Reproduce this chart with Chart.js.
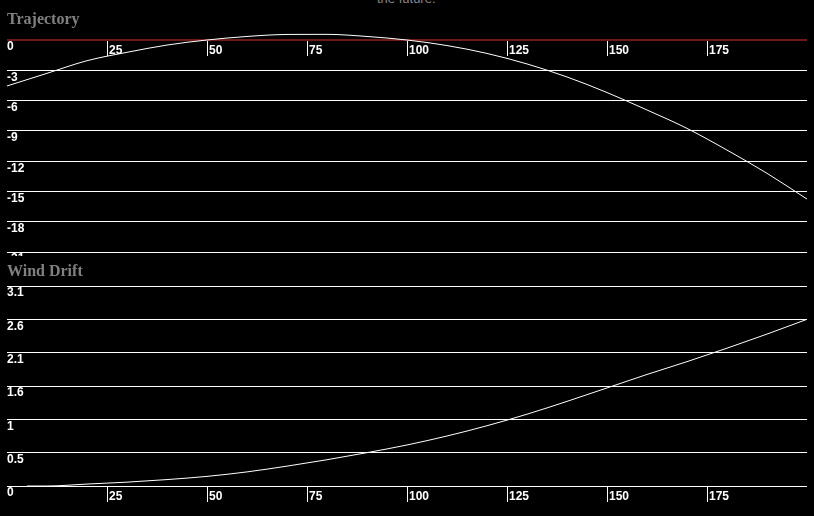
<!DOCTYPE html>
<html>
<head>
<meta charset="utf-8">
<title>Trajectory</title>
<script src="https://cdn.jsdelivr.net/npm/chart.js@4.4.0/dist/chart.umd.min.js"></script>
<style>
  html, body { margin:0; padding:0; background:#000; overflow:hidden; }
  #wrap { position:relative; width:814px; height:516px; }
  canvas { position:absolute; left:0; }
  #trayectoria { top:0; }
  #deriva { top:256px; background:#000; }
  #nota { position:absolute; top:-8px; left:377px; color:#888; font:13px 'Liberation Sans', Arial, sans-serif; line-height:13px; }
</style>
</head>
<body>
<div id="wrap">
  <div id="nota">the future.</div>
  <canvas id="trayectoria" width="814" height="256"></canvas>
  <canvas id="deriva" width="814" height="260"></canvas>
</div>
<script>
// distances (x) and drop of the bullet
var distTray = [0, 10, 20, 30, 40, 50, 60, 70, 80, 90, 100, 110, 120, 130, 140, 150, 160, 170, 180, 190, 200];
var caida = [-4.55, -3.3, -2.05, -1.22, -0.5, 0.0, 0.35, 0.55, 0.56, 0.35, 0.0, -0.55, -1.33, -2.37, -3.66, -5.2, -6.93, -8.75, -10.9, -13.2, -15.75];

// wind drift
var distDeriva = [5, 10, 20, 30, 40, 50, 60, 70, 80, 90, 100, 110, 120, 130, 140, 150, 160, 170, 180, 190, 200];
var deriva = [0.0, 0.0, 0.03, 0.06, 0.1, 0.15, 0.22, 0.31, 0.41, 0.52, 0.64, 0.78, 0.94, 1.12, 1.32, 1.53, 1.74, 1.94, 2.15, 2.37, 2.6];

// tick steps
var pasoX = 25;
var pasoTray = 3;
var pasoDeriva = 0.52;

Chart.defaults.font.family = "'Liberation Sans', Arial, sans-serif";
Chart.defaults.color = "#ffffff";
Chart.defaults.animation = false;

function puntos(xs, ys) {
  var lista = [];
  for (let i = 0; i < xs.length; i++) {
    lista.push({x: xs[i], y: ys[i]});
  }
  return lista;
}

// x axis sits on the 0 line, tick marks hang down, labels to the right of them
function ejeX() {
  return {
    type: "linear",
    min: 0,
    max: 200,
    position: {y: 0},
    afterBuildTicks: function (s) {
      s.ticks = s.ticks.filter(t => t.value > 0 && t.value < 200);
    },
    afterFit: function (s) {
      s.height = 0;
      s.paddingLeft = 0; s.paddingRight = 0; s.paddingTop = 0; s.paddingBottom = 0;
    },
    border: {display: false},
    grid: {drawOnChartArea: false, drawTicks: true, tickLength: 16, color: "#ffffff", tickColor: "#ffffff", lineWidth: 1},
    ticks: {stepSize: pasoX, autoSkip: false, maxRotation: 0, align: "start", labelOffset: 2, padding: -13,
            color: "#ffffff", font: {size: 12, weight: "bold"}}
  };
}

function ejeY(min, max, paso, colorCero, formato) {
  var eje = {
    type: "linear",
    min: min,
    max: max,
    afterFit: function (s) {
      s.width = 0;
      s.paddingTop = 0; s.paddingBottom = 0;
    },
    border: {display: false},
    grid: {
      drawTicks: false,
      color: ctx => (ctx.tick && ctx.tick.value === 0) ? colorCero : "#ffffff",
      lineWidth: ctx => (ctx.tick && ctx.tick.value === 0 && colorCero !== "#ffffff") ? 2 : 1
    },
    ticks: {stepSize: paso, includeBounds: false, mirror: true, padding: 0, labelOffset: 7,
            color: "#ffffff", font: {size: 12, weight: "bold"}}
  };
  if (formato) eje.ticks.callback = formato;
  return eje;
}

function titulo(texto, arriba) {
  return {
    display: true,
    text: texto,
    align: "start",
    color: "#808080",
    font: {family: "'Liberation Serif', 'Times New Roman', serif", size: 16, weight: "bold"},
    padding: {top: arriba, bottom: 0}
  };
}

// Trajectory chart
var ctx1 = document.getElementById("trayectoria").getContext("2d");
var grafica1 = new Chart(ctx1, {
  type: "line",
  data: {
    datasets: [{
      data: puntos(distTray, caida),
      borderColor: "#ffffff",
      borderWidth: 1,
      pointRadius: 0,
      cubicInterpolationMode: "monotone",
      fill: false
    }]
  },
  options: {
    responsive: false,
    layout: {padding: {left: 7, right: 7, top: 0, bottom: 0}},
    scales: {
      x: ejeX(),
      y: ejeY(-216 / 10.1, 10.8 / 10.1, pasoTray, "#701818")
    },
    plugins: {
      legend: {display: false},
      tooltip: {enabled: false},
      title: titulo("Trajectory", 10)
    }
  }
});

// Wind drift chart
var ctx2 = document.getElementById("deriva").getContext("2d");
var grafica2 = new Chart(ctx2, {
  type: "line",
  data: {
    datasets: [{
      data: puntos(distDeriva, deriva),
      borderColor: "#ffffff",
      borderWidth: 1,
      pointRadius: 0,
      cubicInterpolationMode: "monotone",
      fill: false
    }]
  },
  options: {
    responsive: false,
    layout: {padding: {left: 7, right: 7, top: 0, bottom: 0}},
    scales: {
      x: ejeX(),
      y: ejeY(-30 / 64.1, 204.8 / 64.1, pasoDeriva, "#ffffff", v => String(Number(v.toFixed(1))))
    },
    plugins: {
      legend: {display: false},
      tooltip: {enabled: false},
      title: titulo("Wind Drift", 6)
    }
  }
});
</script>
</body>
</html>
